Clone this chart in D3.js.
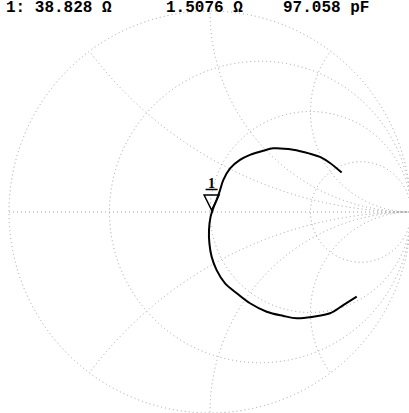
<!DOCTYPE html>
<html>
<head>
<meta charset="utf-8">
<script src="https://cdn.jsdelivr.net/npm/d3@7"></script>
<style>
  html, body { margin: 0; padding: 0; background: #fff; }
  svg { display: block; }
</style>
</head>
<body>
<svg id="chart" width="409" height="413"></svg>
<script>
// Reflection coefficient trace (real / imaginary parts of Gamma)
const traceRe = [0.655, 0.597, 0.547, 0.498, 0.414, 0.315, 0.265, 0.199, 0.149, 0.100,
                 0.066, 0.050, 0.033, 0.016, 0.003, -0.005, -0.003, 0.008, 0.033, 0.075,
                 0.133, 0.199, 0.282, 0.365, 0.431, 0.514, 0.597, 0.663, 0.730];
const traceIm = [0.196, 0.244, 0.274, 0.290, 0.310, 0.317, 0.305, 0.284, 0.259, 0.217,
                 0.159, 0.109, 0.060, 0.018, -0.023, -0.090, -0.156, -0.222, -0.289, -0.355,
                 -0.404, -0.454, -0.496, -0.517, -0.529, -0.521, -0.504, -0.463, -0.421];

// Marker 1 position and its readout
const markerRe = [0.008];
const markerIm = [0.010];
const markerLabels = ["1"];
const readout = ["1: 38.828 \u03A9", "1.5076 \u03A9", "97.058 pF"];

// Smith chart grid: normalized resistance circles and reactance arcs
const resistanceCircles = [1 / 3, 1, 3];
const reactanceArcs = [0.5, 1, 2, -0.5, -1, -2];

const svg = d3.select("#chart");
const cx = 210, cy = 212, R = 201;

const x = d3.scaleLinear().domain([-1, 1]).range([cx - R, cx + R]);
const y = d3.scaleLinear().domain([-1, 1]).range([cy + R, cy - R]);
const len = d => x(d) - x(0);

const gridColor = "#a0a0a0";
const gridDash = "1 3";

svg.append("defs").append("clipPath").attr("id", "unit")
  .append("circle").attr("cx", x(0)).attr("cy", y(0)).attr("r", len(1));

const grid = svg.append("g")
  .attr("fill", "none")
  .attr("stroke", gridColor)
  .attr("stroke-width", 1)
  .attr("stroke-dasharray", gridDash);

// outer boundary |Gamma| = 1
grid.append("circle").attr("cx", x(0)).attr("cy", y(0)).attr("r", len(1));

// real axis
grid.append("line")
  .attr("x1", x(-1)).attr("x2", x(1))
  .attr("y1", y(0)).attr("y2", y(0));

// constant resistance circles
grid.selectAll(".rc").data(resistanceCircles).join("circle")
  .attr("class", "rc")
  .attr("cx", r => x(r / (1 + r)))
  .attr("cy", y(0))
  .attr("r", r => len(1 / (1 + r)));

// constant reactance arcs, clipped to the unit circle
grid.append("g").attr("clip-path", "url(#unit)")
  .selectAll(".xa").data(reactanceArcs).join("circle")
  .attr("class", "xa")
  .attr("cx", x(1))
  .attr("cy", v => y(1 / v))
  .attr("r", v => len(1 / Math.abs(v)));

// measured trace
const pts = traceRe.map((re, i) => [re, traceIm[i]]);
const line = d3.line().x(d => x(d[0])).y(d => y(d[1])).curve(d3.curveCatmullRom);
svg.append("path")
  .datum(pts)
  .attr("d", line)
  .attr("fill", "none")
  .attr("stroke", "#000")
  .attr("stroke-width", 2)
  .attr("stroke-linejoin", "round");

// marker triangle with its number
const mk = svg.append("g").selectAll("g").data(markerRe).join("g")
  .attr("transform", (d, i) => `translate(${x(d)},${y(markerIm[i])})`);
mk.append("path")
  .attr("d", "M-7.5,-15L7.5,-15L0,0Z")
  .attr("fill", "none")
  .attr("stroke", "#000")
  .attr("stroke-width", 1.5);
mk.append("line")
  .attr("x1", -6).attr("x2", 6)
  .attr("y1", -20.5).attr("y2", -20.5)
  .attr("stroke", "#000").attr("stroke-width", 1.5);
mk.append("text")
  .attr("x", 0).attr("y", -22)
  .attr("text-anchor", "middle")
  .attr("font-family", "'Liberation Serif', serif")
  .attr("font-size", 14)
  .attr("font-weight", "bold")
  .text((d, i) => markerLabels[i]);

// marker readout along the top edge
const readoutX = [6, 166, 283];
svg.append("g").selectAll("text").data(readout).join("text")
  .attr("x", (d, i) => readoutX[i])
  .attr("y", 12)
  .attr("font-family", "'Liberation Mono', 'Courier New', monospace")
  .attr("font-size", 16)
  .attr("font-weight", "bold")
  .attr("fill", "#000")
  .text(d => d);
</script>
</body>
</html>
